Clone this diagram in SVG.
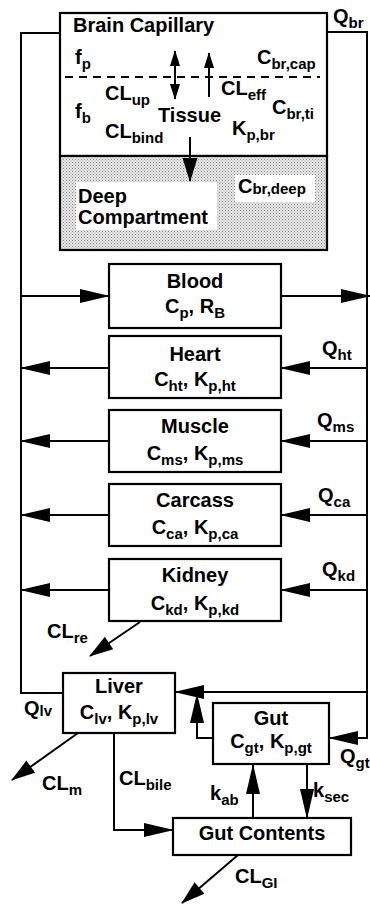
<svg xmlns="http://www.w3.org/2000/svg" width="370" height="905" viewBox="0 0 370 905">
<style>
text{font-family:"Liberation Sans",Arial,Helvetica,sans-serif;font-weight:bold;font-size:20px;fill:#000}
.s{font-size:15px}
.c{text-anchor:middle}
.box{fill:#fff;stroke:#000;stroke-width:2.2}
.ln{fill:none;stroke:#000;stroke-width:2}
.a{marker-end:url(#big)}
.m{marker-end:url(#mid)}
</style>
<defs>
<marker id="big" markerUnits="userSpaceOnUse" markerWidth="30" markerHeight="14" refX="29" refY="7" orient="auto" overflow="visible"><path d="M0,0 L30,7 L0,14 z" fill="#000"/></marker>
<marker id="mid" markerUnits="userSpaceOnUse" markerWidth="24" markerHeight="15" refX="23" refY="7.5" orient="auto" overflow="visible"><path d="M0,0 L24,7.5 L0,15 z" fill="#000"/></marker>
<marker id="sm" markerUnits="userSpaceOnUse" markerWidth="16" markerHeight="10" refX="15" refY="5" orient="auto-start-reverse" overflow="visible"><path d="M0,0 L16,5 L0,10 z" fill="#000"/></marker>
<pattern id="dots" width="3" height="3" patternUnits="userSpaceOnUse"><rect width="3" height="3" fill="#e6e6e6"/><rect width="1" height="1" fill="#8a8a8a"/><rect x="1.5" y="1.5" width="1" height="1" fill="#aaa"/></pattern>
</defs>

<g id="connectors">
<path class="ln" d="M60,33 H21 V693 H63"/>
<path class="ln a" d="M327,32 H367 V738 H329"/>
<path class="ln a" d="M21,296 H109"/>
<path class="ln a" d="M281,296 H370"/>
<path class="ln a" d="M367,368 H281"/>
<path class="ln a" d="M109,368 H21"/>
<path class="ln a" d="M367,441 H281"/>
<path class="ln a" d="M109,441 H21"/>
<path class="ln a" d="M367,515 H281"/>
<path class="ln a" d="M109,515 H21"/>
<path class="ln a" d="M367,590 H281"/>
<path class="ln a" d="M109,590 H21"/>
<path class="ln a" d="M367,692 H175"/>
<path class="ln a" d="M213,738 H197 V694"/>
<path class="ln m" d="M140,622 L90,656"/>
<path class="ln m" d="M78,733 L12,780"/>
<path class="ln a" d="M114,733 V830 H173"/>
<path class="ln a" d="M253,818 V765"/>
<path class="ln a" d="M307,765 V818"/>
<path class="ln m" d="M238,855 L182,903"/>
</g>

<g id="brain">
<rect class="box" x="60" y="13" width="267" height="143"/>
<rect x="60" y="156" width="267" height="94" fill="url(#dots)" stroke="#000" stroke-width="2.2"/>
<path d="M65,77 H320" stroke="#000" stroke-width="2" stroke-dasharray="8,6" fill="none"/>
<path d="M175,51 V99" stroke="#000" stroke-width="2" marker-start="url(#sm)" marker-end="url(#sm)"/>
<path d="M209,97 V53" stroke="#000" stroke-width="2" marker-end="url(#sm)"/>
<path class="ln m" d="M190,137 V181"/>
<text x="73" y="32" font-size="18.5">Brain Capillary</text>
<text x="75" y="64">f<tspan class="s" dy="5">p</tspan></text>
<text x="257" y="64">C<tspan class="s" dy="5">br,cap</tspan></text>
<text x="105" y="100">CL<tspan class="s" dy="5">up</tspan></text>
<text x="221" y="95">CL<tspan class="s" dy="5">eff</tspan></text>
<text x="75" y="118">f<tspan class="s" dy="5">b</tspan></text>
<text x="158" y="122">Tissue</text>
<text x="272" y="114">C<tspan class="s" dy="5">br,ti</tspan></text>
<text x="105" y="138">CL<tspan class="s" dy="5">bind</tspan></text>
<text x="232" y="135">K<tspan class="s" dy="5">p,br</tspan></text>
<rect x="76" y="182" width="141" height="48" fill="#fff"/>
<text x="78" y="203">Deep</text>
<text x="78" y="224">Compartment</text>
<rect x="235" y="175" width="80" height="27" fill="#fff"/>
<text x="238" y="193">C<tspan class="s" font-size="15" dy="1">br,deep</tspan></text>
<text x="333" y="23">Q<tspan class="s" dy="5">br</tspan></text>
</g>

<g id="blood">
<rect class="box" x="109" y="264" width="172" height="64"/>
<text class="c" x="195" y="288">Blood</text>
<text class="c" x="195" y="313">C<tspan class="s" dy="5">p</tspan><tspan dy="-5">, R</tspan><tspan class="s" dy="5">B</tspan></text>
</g>

<g id="heart">
<rect class="box" x="109" y="336" width="172" height="62"/>
<text class="c" x="195" y="361">Heart</text>
<text class="c" x="195" y="386">C<tspan class="s" dy="5">ht</tspan><tspan dy="-5">, K</tspan><tspan class="s" dy="5">p,ht</tspan></text>
<text x="322" y="355">Q<tspan class="s" dy="5">ht</tspan></text>
</g>

<g id="muscle">
<rect class="box" x="109" y="410" width="172" height="62"/>
<text class="c" x="195" y="433">Muscle</text>
<text class="c" x="195" y="460">C<tspan class="s" dy="5">ms</tspan><tspan dy="-5">, K</tspan><tspan class="s" dy="5">p,ms</tspan></text>
<text x="317" y="427">Q<tspan class="s" dy="5">ms</tspan></text>
</g>

<g id="carcass">
<rect class="box" x="109" y="484" width="172" height="62"/>
<text class="c" x="195" y="507">Carcass</text>
<text class="c" x="195" y="534">C<tspan class="s" dy="5">ca</tspan><tspan dy="-5">, K</tspan><tspan class="s" dy="5">p,ca</tspan></text>
<text x="318" y="502">Q<tspan class="s" dy="5">ca</tspan></text>
</g>

<g id="kidney">
<rect class="box" x="109" y="559" width="172" height="62"/>
<text class="c" x="195" y="582">Kidney</text>
<text class="c" x="195" y="610">C<tspan class="s" dy="5">kd</tspan><tspan dy="-5">, K</tspan><tspan class="s" dy="5">p,kd</tspan></text>
<text x="322" y="576">Q<tspan class="s" dy="5">kd</tspan></text>
<text x="47" y="638">CL<tspan class="s" dy="5">re</tspan></text>
</g>

<g id="liver">
<rect class="box" x="63" y="673" width="112" height="60"/>
<text class="c" x="119" y="693">Liver</text>
<text class="c" x="119" y="719">C<tspan class="s" dy="5">lv</tspan><tspan dy="-5">, K</tspan><tspan class="s" dy="5">p,lv</tspan></text>
<text x="24" y="715">Q<tspan class="s" font-size="15" dy="1">lv</tspan></text>
<text x="42" y="790">CL<tspan class="s" dy="5">m</tspan></text>
<text x="119" y="785">CL<tspan class="s" dy="5">bile</tspan></text>
</g>

<g id="gut">
<rect class="box" x="213" y="703" width="116" height="61"/>
<text class="c" x="271" y="725">Gut</text>
<text class="c" x="271" y="748">C<tspan class="s" dy="5">gt</tspan><tspan dy="-5">, K</tspan><tspan class="s" dy="5">p,gt</tspan></text>
<text x="340" y="763">Q<tspan class="s" dy="5">gt</tspan></text>
<text x="210" y="800">k<tspan class="s" dy="5">ab</tspan></text>
<text x="313" y="797">k<tspan class="s" dy="5">sec</tspan></text>
</g>

<g id="gut-contents">
<rect class="box" x="173" y="818" width="178" height="37"/>
<text class="c" x="262" y="840">Gut Contents</text>
<text x="235" y="883">CL<tspan class="s" dy="5">GI</tspan></text>
</g>
</svg>
